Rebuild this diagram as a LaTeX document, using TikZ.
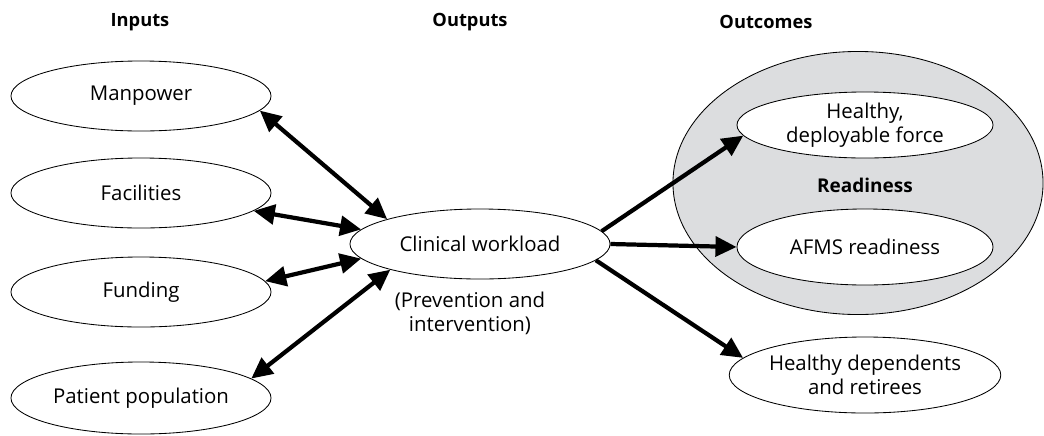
\documentclass[tikz,border=0pt]{standalone}
\usepackage{fontspec}
\setmainfont{Open Sans}
\usepackage{tikz}
\usetikzlibrary{shapes.geometric,arrows.meta}

\definecolor{readygray}{RGB}{220,221,223}

\begin{document}
\begin{tikzpicture}[x=0.025cm,y=-0.025cm,
    font=\fontsize{14.5}{17}\selectfont,
    head/.style={font=\fontsize{13}{15}\selectfont\bfseries},
    oval/.style={ellipse,draw,line width=0.6pt,fill=white,inner sep=0pt,align=center},
    inoval/.style={oval,minimum width=6.5cm,minimum height=1.75cm},
    link/.style={line width=3pt,-{Triangle[length=15pt,width=14pt]}},
    twolink/.style={line width=3pt,{Triangle[length=15pt,width=14pt]}-{Triangle[length=15pt,width=14pt]}}]
    \useasboundingbox (0,0) rectangle (1044,435);

    % Headers
    \node[head] (hin) at (140,22) {Inputs};
    \node[head] (hout) at (470,22) {Outputs};
    \node[head] (hres) at (766,22) {Outcomes};

    % Readiness area
    \node[ellipse,draw,line width=0.6pt,fill=readygray,minimum width=9.25cm,minimum height=6.575cm] (ready) at (858,183) {};
    \node[head,font=\fontsize{13.5}{15}\selectfont\bfseries] (readylbl) at (865,185) {Readiness};

    % Inputs
    \node[inoval] (manpower) at (141,96) {Manpower};
    \node[inoval] (facilities) at (141,193) {Facilities};
    \node[inoval] (funding) at (141,292) {Funding};
    \node[inoval,minimum height=1.8cm] (patients) at (141,398) {Patient population};

    % Outputs
    \node[oval,minimum width=6.5cm,minimum height=1.75cm] (workload) at (480,244) {Clinical workload};
    \node[align=center] (prevent) at (470,313) {(Prevention and\\intervention)};

    % Outcomes
    \node[oval,minimum width=6.4cm,minimum height=1.65cm] (force) at (865,125) {Healthy,\\deployable force};
    \node[oval,minimum width=6.4cm,minimum height=1.9cm] (afms) at (865,247) {AFMS readiness};
    \node[oval,minimum width=6.45cm,minimum height=1.9cm] (depend) at (865,375) {Healthy dependents\\and retirees};

    % Connectors
    \draw[twolink] (manpower.-7) -- (workload.165);
    \draw[twolink] (facilities.-9) -- (workload.173);
    \draw[twolink] (funding.5) -- (workload.187);
    \draw[twolink] (patients.10) -- (workload.196);
    \draw[link] (workload.6) -- (force.185);
    \draw[link] (workload.east) -- (afms.west);
    \draw[link] (workload.-8) -- (depend.172);
\end{tikzpicture}
\end{document}
